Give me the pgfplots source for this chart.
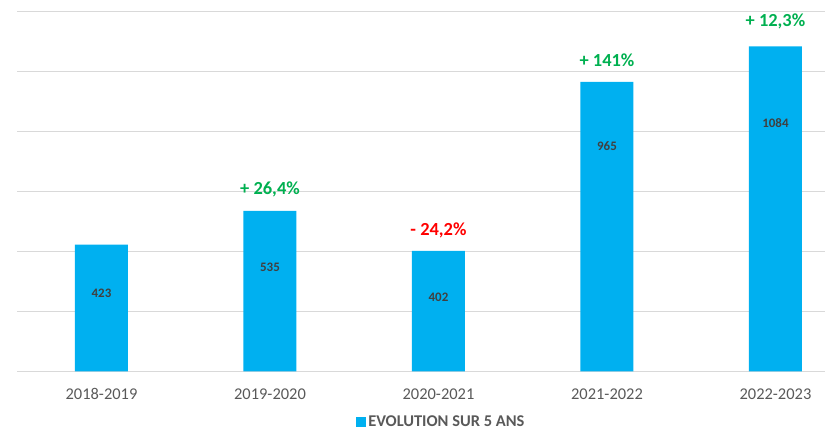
\documentclass[border=0pt]{standalone}
\usepackage{pgfplots}
\pgfplotsset{compat=1.18}
\usepackage{fontspec}
\setmainfont{Carlito}
\definecolor{barblue}{HTML}{00B0F0}
\definecolor{gridgray}{HTML}{D9D9D9}
\definecolor{textgray}{HTML}{595959}
\definecolor{valgray}{HTML}{404040}
\definecolor{pctgreen}{HTML}{00B050}
\definecolor{pctred}{HTML}{FF0000}
\begin{document}
\begin{tikzpicture}
\useasboundingbox (0,0) rectangle (825bp,430bp);
\begin{axis}[
  at={(17.25bp,58.5bp)}, anchor=south west,
  scale only axis, width=807.75bp, height=360bp,
  xmin=-0.5, xmax=4.294, ymin=0, ymax=1200,
  ytick={0,200,...,1200}, yticklabels={},
  ymajorgrids, grid style={color=gridgray, line width=0.8pt},
  axis lines*=left,
  y axis line style={draw=none},
  x axis line style={draw=gridgray, line width=0.8pt},
  major tick length=0pt,
  xtick={0,1,2,3,4},
  xticklabels={2018-2019,2019-2020,2020-2021,2021-2022,2022-2023},
  xticklabel style={anchor=center, yshift=-22.5bp, font=\fontsize{16.5}{16.5}\selectfont, text=textgray},
  clip=false,
  legend style={at={(0.525,-0.14)}, anchor=center, draw=none, fill=none,
    font=\bfseries\fontsize{16.5}{16.5}\selectfont, text=textgray,
    legend cell align=left, inner sep=0pt},
  legend image code/.code={\fill[barblue] (0bp,-5bp) rectangle (10bp,5bp);},
]
\addplot[ybar, bar width=53bp, fill=barblue, draw=none] coordinates {(0,423) (1,535) (2,402) (3,965) (4,1084)};
\addlegendentry{EVOLUTION SUR 5 ANS}
\begin{scope}[every node/.style={font=\bfseries\fontsize{13}{13}\selectfont, text=valgray, anchor=center}]
\node at (axis cs:0,260) {423};
\node at (axis cs:1,347) {535};
\node at (axis cs:2,247) {402};
\node at (axis cs:3,750) {965};
\node at (axis cs:4,827) {1084};
\end{scope}
\begin{scope}[every node/.style={font=\bfseries\fontsize{18.5}{18.5}\selectfont, anchor=center}]
\node[text=pctgreen] at (axis cs:1,608) {+ 26,4\%};
\node[text=pctred] at (axis cs:2,472) {- 24,2\%};
\node[text=pctgreen] at (axis cs:3,1038) {+ 141\%};
\node[text=pctgreen] at (axis cs:4,1168) {+ 12,3\%};
\end{scope}
\end{axis}
\end{tikzpicture}
\end{document}
